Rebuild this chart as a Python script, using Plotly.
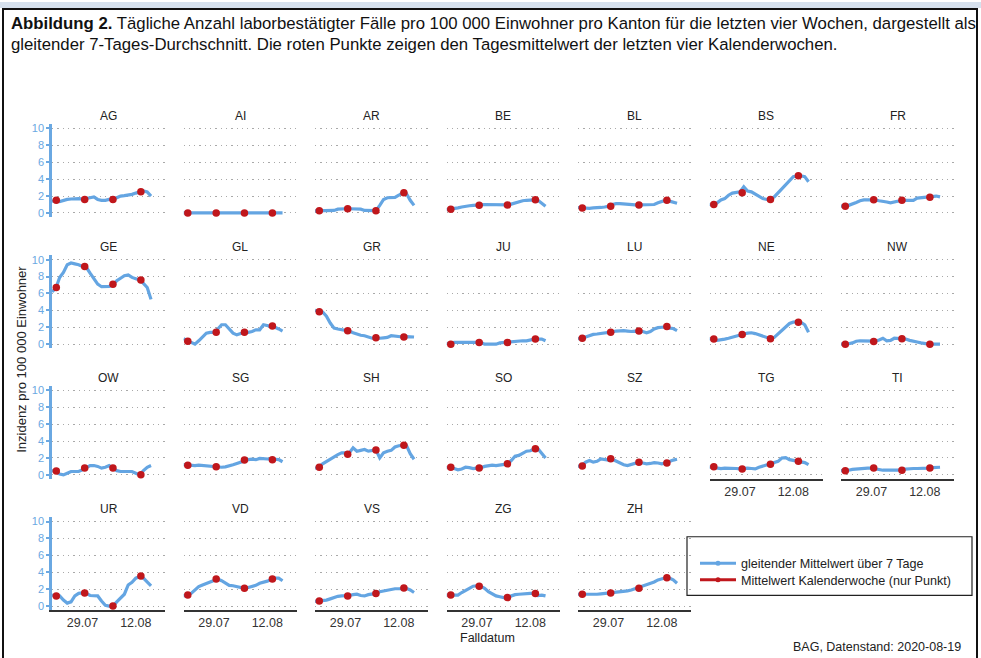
import datetime as _dt
import plotly.graph_objects as go

W, H = 981, 658

cantons = ["AG", "AI", "AR", "BE", "BL", "BS", "FR",
           "GE", "GL", "GR", "JU", "LU", "NE", "NW",
           "OW", "SG", "SH", "SO", "SZ", "TG", "TI",
           "UR", "VD", "VS", "ZG", "ZH"]

# daily dates of the 7-day rolling mean (21.07.2020 - 16.08.2020)
dates = [(_dt.date(2020, 7, 21) + _dt.timedelta(days=k)).isoformat() for k in range(27)]
# positions of the weekly means (calendar weeks 30-33)
week_dates = ["2020-07-22 03:00", "2020-07-29 14:00", "2020-08-06 00:00", "2020-08-13 08:00"]

tick_vals = ["2020-07-29", "2020-08-12"]
tick_text = ["29.07", "12.08"]
x_range = ["2020-07-21", "2020-08-19 16:00"]
y_ticks = [0, 2, 4, 6, 8, 10]

AG = [1.4,1.45,1.35,1.5,1.6,1.65,1.7,1.7,1.65,1.7,1.8,1.9,1.6,1.5,1.5,1.6,1.6,1.8,2.0,2.05,2.1,2.2,2.35,2.5,2.6,2.5,2.0]
AI = [0.0]*27
AR = [0.25,0.27,0.25,0.25,0.25,0.3,0.45,0.5,0.5,0.5,0.5,0.5,0.45,0.3,0.3,0.3,0.27,0.9,1.6,1.8,1.8,1.85,2.1,2.4,2.3,1.5,0.9]
BE = [0.4,0.45,0.5,0.6,0.7,0.8,0.85,0.9,0.9,0.95,1.0,1.0,1.0,0.95,0.95,0.95,0.95,1.05,1.2,1.35,1.45,1.5,1.55,1.55,1.5,1.1,0.8]
BL = [0.65,0.6,0.55,0.55,0.6,0.6,0.65,0.7,0.8,1.0,1.1,1.1,1.05,1.0,1.0,0.95,0.95,0.95,0.95,0.95,1.0,1.2,1.4,1.5,1.4,1.25,1.15]
BS = [1.0,0.95,1.2,1.55,1.7,2.1,2.35,2.45,2.5,3.1,2.6,2.5,2.2,2.0,1.7,1.6,1.65,1.9,2.4,2.9,3.4,3.9,4.3,4.4,4.4,4.3,3.7]
FR = [0.8,0.8,0.9,1.05,1.25,1.45,1.55,1.55,1.55,1.55,1.45,1.4,1.3,1.2,1.3,1.45,1.5,1.5,1.5,1.5,1.75,1.8,1.85,1.9,2.0,2.0,1.9]
GE = [6.2,6.6,7.9,8.5,9.4,9.6,9.5,9.4,9.2,9.1,8.4,7.8,7.1,6.8,6.8,6.85,7.0,7.5,7.8,8.1,8.2,7.9,7.75,7.6,7.2,6.7,5.3]
GL = [0.65,0.4,0.2,0.0,0.4,0.9,1.3,1.4,1.4,1.8,2.3,2.3,1.8,1.3,1.1,1.3,1.4,1.4,1.5,1.7,1.7,2.3,2.2,2.1,2.0,1.8,1.55]
GR = [4.0,3.85,3.8,3.3,2.5,1.9,1.8,1.7,1.65,1.55,1.35,1.2,1.05,1.0,0.8,0.7,0.75,0.7,0.75,0.8,1.0,0.95,0.9,0.85,0.9,0.9,0.85]
JU = [0.1,0.0,0.2,0.2,0.2,0.2,0.2,0.2,0.2,0.2,0.0,0.0,0.0,0.0,0.15,0.2,0.2,0.25,0.3,0.35,0.4,0.4,0.5,0.6,0.6,0.6,0.4]
LU = [0.65,0.7,0.85,1.05,1.15,1.2,1.25,1.3,1.35,1.45,1.55,1.6,1.6,1.55,1.5,1.55,1.55,1.5,1.35,1.5,1.8,1.95,2.0,2.05,1.9,1.85,1.6]
NE = [0.65,0.6,0.45,0.5,0.6,0.7,0.85,0.95,1.05,1.2,1.3,1.35,1.25,1.1,0.95,0.8,0.65,0.8,1.2,1.6,2.1,2.45,2.6,2.65,2.6,2.3,1.4]
NW = [0.0,0.0,0.05,0.15,0.35,0.4,0.4,0.4,0.35,0.35,0.5,0.7,0.4,0.45,0.7,0.65,0.65,0.6,0.45,0.3,0.25,0.15,0.05,0.0,0.0,0.0,0.0]
OW = [0.5,0.4,0.1,0.0,0.2,0.4,0.4,0.4,0.6,0.8,1.1,1.1,1.0,0.8,0.9,1.1,0.85,0.5,0.4,0.4,0.4,0.4,0.2,0.0,0.5,0.9,1.1]
SG = [1.2,1.15,1.1,1.1,1.15,1.1,1.05,1.0,0.95,0.9,0.9,0.95,1.05,1.2,1.35,1.5,1.7,1.8,1.85,1.8,1.95,1.9,1.85,1.85,1.85,1.8,1.55]
SH = [0.8,0.9,1.3,1.6,1.9,2.1,2.4,2.6,2.6,2.6,3.2,2.8,2.9,3.0,2.8,2.85,2.95,2.0,2.6,2.8,2.9,3.3,3.45,3.5,3.5,2.5,1.85]
SO = [0.85,0.9,0.75,0.6,0.7,0.9,0.85,0.75,0.8,0.85,1.0,1.1,1.15,1.1,1.15,1.2,1.3,1.7,2.2,2.3,2.5,2.8,2.85,3.05,3.1,2.6,2.0]
SZ = [1.0,1.1,1.5,1.7,1.5,1.6,1.9,1.8,1.75,1.85,1.6,1.4,1.2,1.1,1.25,1.4,1.5,1.4,1.3,1.35,1.45,1.4,1.3,1.4,1.6,1.75,1.85]
TG = [0.95,0.9,0.8,0.75,0.8,0.8,0.8,0.75,0.7,0.75,0.8,0.75,0.7,0.9,1.05,1.2,1.3,1.4,1.6,2.0,2.05,1.8,1.7,1.6,1.55,1.45,1.2]
TI = [0.5,0.5,0.55,0.65,0.7,0.75,0.8,0.8,0.8,0.7,0.6,0.55,0.55,0.55,0.55,0.55,0.65,0.7,0.7,0.75,0.75,0.75,0.75,0.8,0.85,0.9,0.9]
UR = [1.3,1.2,1.2,0.7,0.35,0.5,1.2,1.5,1.55,1.5,1.25,1.2,1.2,0.6,0.1,0.0,0.0,0.5,1.0,1.4,2.5,2.8,3.3,3.5,3.3,2.9,2.4]
VD = [1.2,1.3,1.5,1.9,2.3,2.5,2.65,2.8,3.0,3.2,3.0,2.7,2.45,2.4,2.3,2.2,2.1,2.2,2.3,2.45,2.7,2.8,2.95,3.15,3.3,3.3,3.0]
VS = [0.55,0.6,0.6,0.7,0.85,1.05,1.15,1.2,1.2,1.25,1.35,1.4,1.25,1.2,1.35,1.45,1.5,1.7,1.8,1.9,2.0,2.05,2.05,2.1,2.1,1.9,1.6]
ZG = [1.3,1.3,1.25,1.3,1.6,1.9,2.1,2.35,2.4,2.35,2.1,1.7,1.45,1.2,1.1,1.0,1.05,1.2,1.35,1.4,1.45,1.45,1.5,1.5,1.25,1.3,1.2]
ZH = [1.4,1.4,1.4,1.4,1.35,1.4,1.45,1.5,1.55,1.55,1.6,1.65,1.7,1.8,1.9,2.05,2.2,2.4,2.5,2.7,2.85,3.1,3.25,3.35,3.3,3.1,2.7]

rolling = dict(AG=AG, AI=AI, AR=AR, BE=BE, BL=BL, BS=BS, FR=FR, GE=GE, GL=GL, GR=GR,
               JU=JU, LU=LU, NE=NE, NW=NW, OW=OW, SG=SG, SH=SH, SO=SO, SZ=SZ, TG=TG,
               TI=TI, UR=UR, VD=VD, VS=VS, ZG=ZG, ZH=ZH)

weekly = dict(
    AG=[1.5, 1.6, 1.6, 2.5], AI=[0.0, 0.0, 0.0, 0.0], AR=[0.27, 0.5, 0.27, 2.4],
    BE=[0.45, 0.9, 0.95, 1.55], BL=[0.6, 0.8, 0.95, 1.5], BS=[1.0, 2.4, 1.6, 4.4],
    FR=[0.8, 1.55, 1.5, 1.85], GE=[6.7, 9.2, 7.1, 7.6], GL=[0.35, 1.4, 1.4, 2.15],
    GR=[3.85, 1.6, 0.75, 0.85], JU=[0.0, 0.2, 0.2, 0.6], LU=[0.7, 1.4, 1.55, 2.1],
    NE=[0.6, 1.15, 0.65, 2.6], NW=[0.0, 0.3, 0.65, 0.0], OW=[0.45, 0.8, 0.8, 0.0],
    SG=[1.15, 0.95, 1.75, 1.8], SH=[0.9, 2.45, 2.95, 3.5], SO=[0.9, 0.8, 1.3, 3.1],
    SZ=[1.05, 1.9, 1.5, 1.4], TG=[0.95, 0.7, 1.25, 1.6], TI=[0.5, 0.8, 0.55, 0.8],
    UR=[1.2, 1.55, 0.0, 3.55], VD=[1.3, 3.2, 2.1, 3.2], VS=[0.6, 1.2, 1.5, 2.15],
    ZG=[1.3, 2.35, 1.0, 1.5], ZH=[1.4, 1.55, 2.1, 3.35])

legend_names = ["gleitender Mittelwert über 7 Tage", "Mittelwert Kalenderwoche (nur Punkt)"]

BLUE = "#64a5e2"
RED = "#c0171c"
AXBLUE = "#6aa8e2"
FONT = "Liberation Sans, Arial, sans-serif"

# ---- layout geometry (pixels) ----
col_left = [52, 183.5, 315, 446.5, 578, 709.5, 841]
panel_w = 113
row_top = [123, 255, 386.5, 518.5]
panel_h = 93.5


def px_x(x):
    return x / W


def px_y(y):
    return 1 - y / H


fig = go.Figure()
layout = dict()
annotations = []
bottom_panels = {"UR", "VD", "VS", "ZG", "ZH", "TG", "TI"}

for k, c in enumerate(cantons):
    r, col = divmod(k, 7)
    n = k + 1
    xa = "x" if n == 1 else f"x{n}"
    ya = "y" if n == 1 else f"y{n}"
    xkey = "xaxis" if n == 1 else f"xaxis{n}"
    ykey = "yaxis" if n == 1 else f"yaxis{n}"
    x0, x1 = col_left[col], col_left[col] + panel_w
    y0, y1 = row_top[r], row_top[r] + panel_h
    is_bottom = c in bottom_panels
    layout[xkey] = dict(
        domain=[px_x(x0), px_x(x1)], anchor=ya, type="date", range=x_range,
        tickvals=tick_vals, ticktext=tick_text, showgrid=False, zeroline=False,
        showticklabels=is_bottom, showline=is_bottom, linecolor="#333333", linewidth=1.6,
        ticks="", tickfont=dict(family=FONT, size=12.5, color="#333333"), fixedrange=True)
    first_col = col == 0
    layout[ykey] = dict(
        domain=[px_y(y1), px_y(y0)], anchor=xa, range=[-0.5, 10.5], tickvals=y_ticks,
        showgrid=True, gridcolor="#a9a9a9", griddash="1.3px,4px", gridwidth=1.3,
        zeroline=False,
        showticklabels=first_col, showline=first_col, linecolor=AXBLUE, linewidth=2.5,
        ticks="outside" if first_col else "", ticklen=3, tickcolor=AXBLUE, tickwidth=1.5,
        tickfont=dict(family=FONT, size=11, color=AXBLUE), fixedrange=True)
    fig.add_trace(go.Scatter(x=dates, y=rolling[c], mode="lines", xaxis=xa, yaxis=ya,
                             line=dict(color=BLUE, width=3.2), showlegend=False,
                             hoverinfo="skip"))
    fig.add_trace(go.Scatter(x=week_dates, y=weekly[c], mode="markers", xaxis=xa, yaxis=ya,
                             marker=dict(color=RED, size=7.5), showlegend=False,
                             hoverinfo="skip"))
    annotations.append(dict(text=c, x=px_x((x0 + x1) / 2), y=px_y(y0 - 8), xref="paper",
                            yref="paper", showarrow=False, xanchor="center", yanchor="middle",
                            font=dict(family=FONT, size=12, color="#222222")))

# legend entries (one legend per entry for exact row spacing)
fig.add_trace(go.Scatter(x=[None], y=[None], mode="lines+markers", name=legend_names[0],
                         legend="legend",
                         line=dict(color=BLUE, width=3), marker=dict(color=BLUE, size=5)))
fig.add_trace(go.Scatter(x=[None], y=[None], mode="lines+markers", name=legend_names[1],
                         legend="legend2",
                         line=dict(color=RED, width=3), marker=dict(color=RED, size=5)))

leg_common = dict(xanchor="left", yanchor="top", bgcolor="rgba(0,0,0,0)", borderwidth=0,
                  font=dict(family=FONT, size=12.6, color="#222222"), itemwidth=36)

# titles / captions
annotations += [
    dict(text="<b>Abbildung 2.</b> Tägliche Anzahl laborbestätigter Fälle pro 100 000 Einwohner "
              "pro Kanton für die letzten vier Wochen, dargestellt als",
         x=px_x(9), y=px_y(22), xref="paper", yref="paper", showarrow=False,
         xanchor="left", yanchor="middle", font=dict(family=FONT, size=16.75, color="#111111")),
    dict(text="gleitender 7-Tages-Durchschnitt. Die roten Punkte zeigen den Tagesmittelwert "
              "der letzten vier Kalenderwochen.",
         x=px_x(9), y=px_y(43), xref="paper", yref="paper", showarrow=False,
         xanchor="left", yanchor="middle", font=dict(family=FONT, size=16.75, color="#111111")),
    dict(text="Inzidenz pro 100 000 Einwohner", x=px_x(22), y=px_y(360), xref="paper",
         yref="paper", showarrow=False, textangle=-90, xanchor="center", yanchor="middle",
         font=dict(family=FONT, size=13, color="#222222")),
    dict(text="Falldatum", x=px_x(487), y=px_y(640), xref="paper", yref="paper",
         showarrow=False, xanchor="center", yanchor="middle",
         font=dict(family=FONT, size=12.5, color="#222222")),
    dict(text="BAG, Datenstand: 2020-08-19", x=px_x(963), y=px_y(658), xref="paper",
         yref="paper", showarrow=False, xanchor="right", yanchor="bottom",
         font=dict(family=FONT, size=12.5, color="#222222")),
]

shapes = [
    dict(type="rect", xref="paper", yref="paper", x0=0, x1=1, y0=px_y(6), y1=1,
         fillcolor="#d6e1ee", line=dict(width=0), layer="below"),
    dict(type="rect", xref="paper", yref="paper", x0=px_x(3), x1=px_x(977), y0=px_y(665),
         y1=px_y(7), fillcolor="rgba(0,0,0,0)", line=dict(color="#111111", width=2)),
    dict(type="rect", xref="paper", yref="paper", x0=px_x(687), x1=px_x(972), y0=px_y(597),
         y1=px_y(538), fillcolor="white", line=dict(color="#222222", width=1.2), layer="below"),
]

fig.update_layout(
    width=W, height=H, autosize=False,
    margin=dict(l=0, r=0, t=0, b=0),
    paper_bgcolor="white", plot_bgcolor="rgba(0,0,0,0)",
    showlegend=True,
    legend=dict(x=px_x(695), y=px_y(550), **leg_common),
    legend2=dict(x=px_x(695), y=px_y(566.5), **leg_common),
    annotations=annotations, shapes=shapes,
    **layout)

fig.write_html("out.html", config={"displayModeBar": False},
               post_script="document.body.style.margin='0';document.body.style.overflow='hidden';")
